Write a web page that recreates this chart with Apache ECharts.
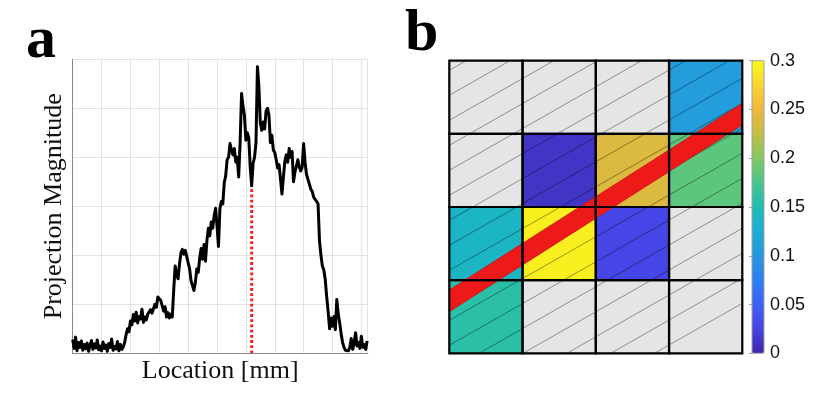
<!DOCTYPE html>
<html>
<head>
<meta charset="utf-8">
<title>Projection profile and cell map</title>
<script src="https://cdn.jsdelivr.net/npm/echarts@6/dist/echarts.min.js"></script>
<style>
  html, body { margin: 0; padding: 0; background: #ffffff; }
  #chart { width: 825px; height: 393px; }
</style>
</head>
<body>
<div id="chart"></div>
<script>
// ---- panel a: projection profile, one sample every 0.05 mm ----
const sampleStart = 0;
const sampleStep = 0.05;
const projection = [
  0.28, 0.10, 0.33, 0.05, 0.22, 0.12, 0.25, 0.06, 0.18, 0.09,
  0.21, 0.04, 0.16, 0.26, 0.08, 0.19, 0.11, 0.27, 0.07, 0.15,
  0.05, 0.23, 0.10, 0.17, 0.04, 0.20, 0.12, 0.29, 0.06, 0.14,
  0.09, 0.24, 0.05, 0.18, 0.08, 0.13, 0.22, 0.38, 0.50, 0.44,
  0.66, 0.58, 0.79, 0.66, 0.84, 0.62, 0.75, 0.70, 0.90, 0.63,
  0.74, 0.68, 0.80, 0.77, 0.89, 0.82, 0.86, 1.00, 0.94, 1.15,
  1.18, 1.08, 1.12, 0.86, 0.95, 0.74, 0.83, 0.72, 0.80, 0.74,
  1.30, 1.78, 1.60, 1.52, 1.82, 2.05, 2.12, 2.02, 2.10, 1.98,
  1.95, 1.72, 1.48, 1.38, 1.28, 1.45, 1.72, 1.65, 1.95, 2.14,
  1.92, 2.22, 1.88, 2.30, 2.55, 2.40, 2.68, 2.55, 2.80, 2.96,
  2.60, 2.18, 2.95, 3.10, 3.05, 3.48, 3.62, 3.95, 4.00, 4.28,
  4.15, 4.05, 4.18, 3.90, 4.00, 3.60, 4.30, 5.30, 5.05, 4.85,
  4.35, 4.50, 4.40, 3.80, 3.42, 3.88, 4.00, 4.30, 5.85, 5.45,
  4.70, 4.55, 4.72, 4.58, 4.95, 5.00, 4.85, 4.30, 4.45, 4.15,
  4.10, 3.95, 3.78, 3.85, 3.55, 3.25, 3.60, 3.92, 4.05, 3.90,
  4.18, 4.00, 4.12, 3.50, 3.70, 3.82, 3.95, 3.80, 3.72, 3.80,
  4.28, 3.90, 3.65, 3.55, 3.45, 3.35, 3.30, 3.18, 3.22, 3.10,
  3.05, 2.30, 2.00, 1.78, 1.70, 1.50, 1.15, 0.85, 0.50, 0.72,
  0.55, 0.75, 0.48, 1.10, 0.80, 0.62, 0.40, 0.22, 0.12, 0.06,
  0.08, 0.05, 0.12, 0.30, 0.08, 0.20, 0.42, 0.15, 0.22, 0.10,
  0.35, 0.12, 0.18, 0.08, 0.25
];
const markerLocation = 6.2;
const markerHeight = 3.42;
const locationMax = 10.22;
const magnitudeMax = 6;

// ---- panel b: cell values, top row first (null = empty cell) ----
const cellRows = [
  [null,  null,  null,  0.107],
  [null,  0.012, 0.238, 0.184],
  [0.137, 0.292, 0.027, null ],
  [0.158, null,  null,  null ]
];
// red band: centre height at left and right edge, and half thickness (cell units)
const bandLeft = 0.717;
const bandRight = 3.27;
const bandHalf = 0.148;

// colour bar
const colorMin = 0;
const colorMax = 0.3;
const colorStep = 0.05;
const parula = [
  '#3d26a8', '#4743e4', '#3f60f5', '#2d7ff2', '#2796e0', '#1aaed2', '#1fbcb4',
  '#45c58e', '#84c85f', '#c3bd43', '#f1b73c', '#fad431', '#f9fb15'
];

// build series data
const profileData = projection.map((v, i) => [sampleStart + i * sampleStep, v]);
const nCells = cellRows.length;
const valuedCells = [];
const emptyCells = [];
const allCells = [];
cellRows.forEach((row, ri) => {
  const r = nCells - 1 - ri;
  row.forEach((v, c) => {
    allCells.push([c, r]);
    if (v === null) emptyCells.push([c, r]);
    else valuedCells.push([c, r, v]);
  });
});

const hatchSlope = 0.57;
const hatchGap = 25;
const hatchOffset = 8;

function cellItem(api, fill) {
  const c = api.value(0);
  const r = api.value(1);
  const p0 = api.coord([c, r + 1]);
  const p1 = api.coord([c + 1, r]);
  const x = p0[0], y = p0[1], w = p1[0] - p0[0], h = p1[1] - p0[1];
  const children = [{ type: 'rect', shape: { x: x, y: y, width: w, height: h }, style: { fill: fill } }];
  // hatch lines share one phase over the whole map
  const o = api.coord([0, 0]);
  for (let k = -5; k < 40; k++) {
    const b = o[1] - hatchOffset - k * hatchGap + hatchSlope * o[0];
    const xa = Math.max(x, (b - (y + h)) / hatchSlope);
    const xb = Math.min(x + w, (b - y) / hatchSlope);
    if (xb - xa > 0.5) {
      children.push({
        type: 'line',
        shape: { x1: xa, y1: b - hatchSlope * xa, x2: xb, y2: b - hatchSlope * xb },
        style: { stroke: 'rgba(0,0,0,0.38)', lineWidth: 1 }
      });
    }
  }
  return { type: 'group', children: children };
}

const mychart = echarts.init(document.getElementById('chart'));

const serif = 'Liberation Serif, Times New Roman, serif';
const frame = '#8a8a8a';

const option = {
  backgroundColor: '#ffffff',
  animation: false,
  graphic: [
    { type: 'text', left: 26, top: 11, style: { text: 'a', font: 'bold 60px ' + serif, fill: '#000' } },
    { type: 'text', left: 405, top: 4, style: { text: 'b', font: 'bold 60px ' + serif, fill: '#000' } }
  ],
  grid: [
    { left: 72.7, top: 59.3, width: 295, height: 294 },
    { left: 449.3, top: 60.7, width: 293, height: 292.6 },
    { left: 752, top: 60.7, width: 12, height: 292.6, show: true, borderColor: '#a0a0a0', borderWidth: 1, backgroundColor: 'transparent', z: 10 }
  ],
  xAxis: [
    {
      type: 'value', gridIndex: 0, min: 0, max: locationMax, interval: 1,
      name: 'Location [mm]', nameLocation: 'middle', nameGap: 5,
      nameTextStyle: { fontFamily: serif, fontSize: 26, color: '#111' },
      axisLine: { show: true, lineStyle: { color: frame, width: 1 } },
      axisTick: { show: false },
      axisLabel: { show: false },
      splitLine: { show: true, lineStyle: { color: '#e2e2e2', width: 1 } }
    },
    {
      type: 'value', gridIndex: 0, position: 'top', min: 0, max: locationMax, interval: 1,
      axisLine: { show: true, lineStyle: { color: frame, width: 1 } },
      axisTick: { show: false },
      axisLabel: { show: false },
      splitLine: { show: false }
    },
    { type: 'value', gridIndex: 1, min: 0, max: nCells, show: false },
    { type: 'value', gridIndex: 2, min: 0, max: 1, show: false }
  ],
  yAxis: [
    {
      type: 'value', gridIndex: 0, min: 0, max: magnitudeMax, interval: 1,
      name: 'Projection Magnitude', nameLocation: 'middle', nameGap: 6,
      nameTextStyle: { fontFamily: serif, fontSize: 26, color: '#111' },
      axisLine: { show: true, lineStyle: { color: frame, width: 1 } },
      axisTick: { show: false },
      axisLabel: { show: false },
      splitLine: { show: true, lineStyle: { color: '#e2e2e2', width: 1 } }
    },
    {
      type: 'value', gridIndex: 0, position: 'right', min: 0, max: magnitudeMax, interval: 1,
      axisLine: { show: true, lineStyle: { color: frame, width: 1 } },
      axisTick: { show: false },
      axisLabel: { show: false },
      splitLine: { show: false }
    },
    { type: 'value', gridIndex: 1, min: 0, max: nCells, show: false },
    {
      type: 'value', gridIndex: 2, position: 'right', min: colorMin, max: colorMax, interval: colorStep,
      axisLine: { show: true, lineStyle: { color: '#a0a0a0' } },
      axisTick: { show: true, inside: true, length: 3, lineStyle: { color: '#a0a0a0' } },
      axisLabel: { show: true, margin: 6, fontFamily: 'Liberation Sans, Arial, sans-serif', fontSize: 18, color: '#111' },
      splitLine: { show: false }
    }
  ],
  visualMap: {
    type: 'continuous',
    seriesIndex: 3,
    dimension: 2,
    min: colorMin,
    max: colorMax,
    calculable: false,
    orient: 'vertical',
    left: 752,
    top: 60.7,
    padding: 0,
    itemWidth: 12,
    itemHeight: 292.6,
    text: null,
    inRange: { color: parula }
  },
  series: [
    {
      type: 'line', xAxisIndex: 0, yAxisIndex: 0, symbol: 'none', silent: true,
      data: [[markerLocation, 0], [markerLocation, markerHeight]],
      lineStyle: { color: '#ff1e1e', width: 3, type: [2.8, 2.4] }
    },
    {
      type: 'line', xAxisIndex: 0, yAxisIndex: 0, symbol: 'none', silent: true,
      data: profileData,
      lineStyle: { color: '#000000', width: 3, join: 'round' }
    },
    {
      type: 'custom', xAxisIndex: 2, yAxisIndex: 2, silent: true,
      data: emptyCells,
      renderItem: (params, api) => cellItem(api, '#e5e5e5')
    },
    {
      type: 'custom', xAxisIndex: 2, yAxisIndex: 2, silent: true,
      data: valuedCells,
      encode: { x: 0, y: 1 },
      renderItem: (params, api) => cellItem(api, api.visual('color'))
    },
    {
      type: 'custom', xAxisIndex: 2, yAxisIndex: 2, silent: true,
      data: [[0, bandLeft, nCells, bandRight, bandHalf]],
      renderItem: (params, api) => {
        const x0 = api.value(0), y0 = api.value(1), x1 = api.value(2), y1 = api.value(3), hw = api.value(4);
        return {
          type: 'polygon',
          shape: { points: [api.coord([x0, y0 - hw]), api.coord([x1, y1 - hw]), api.coord([x1, y1 + hw]), api.coord([x0, y0 + hw])] },
          style: { fill: '#ee1a1a', stroke: '#c51515', lineWidth: 0.8 }
        };
      }
    },
    {
      type: 'custom', xAxisIndex: 2, yAxisIndex: 2, silent: true,
      data: allCells,
      renderItem: (params, api) => {
        const c = api.value(0), r = api.value(1);
        const p0 = api.coord([c, r + 1]);
        const p1 = api.coord([c + 1, r]);
        return {
          type: 'rect',
          shape: { x: p0[0], y: p0[1], width: p1[0] - p0[0], height: p1[1] - p0[1] },
          style: { fill: null, stroke: '#000000', lineWidth: 2.2 }
        };
      }
    }
  ]
};

mychart.setOption(option);

window.addEventListener('resize', () => {
  mychart.resize();
});
</script>
</body>
</html>
